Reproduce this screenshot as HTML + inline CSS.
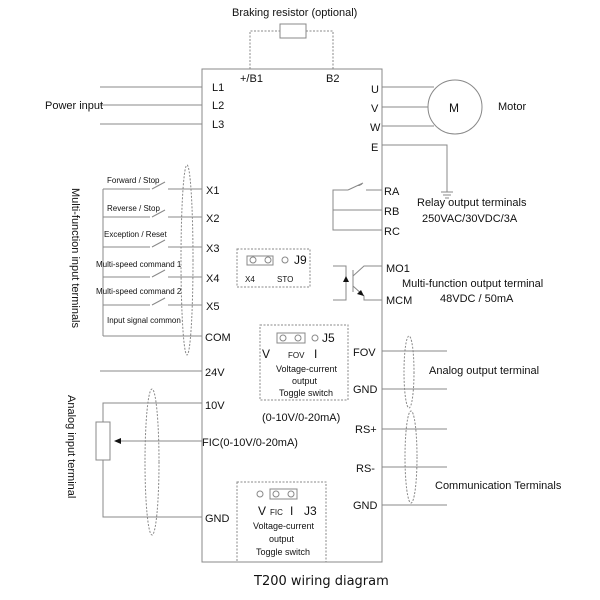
<!DOCTYPE html>
<html><head><meta charset="utf-8"><style>
html,body{margin:0;padding:0;background:#fff}
svg{display:block}
text{font-family:"Liberation Sans",sans-serif;fill:#111}
</style></head><body>
<svg width="600" height="600" viewBox="0 0 600 600" xmlns="http://www.w3.org/2000/svg">
<g stroke="#888" stroke-width="1" fill="none">
<!-- main box -->
<rect x="202" y="69" width="180" height="493"/>
<!-- braking -->
<polyline points="250,69 250,31 280,31" stroke-dasharray="2,1.5"/>
<polyline points="306,31 333,31 333,69" stroke-dasharray="2,1.5"/>
<rect x="280" y="24" width="26" height="14"/>
<!-- power -->
<line x1="100" y1="87" x2="202" y2="87"/>
<line x1="100" y1="105" x2="202" y2="105"/>
<line x1="100" y1="124" x2="202" y2="124"/>
<!-- motor -->
<line x1="382" y1="87" x2="434" y2="87"/>
<line x1="382" y1="107" x2="428" y2="107"/>
<line x1="382" y1="126" x2="434" y2="126"/>
<circle cx="455" cy="107" r="27"/>
<polyline points="382,145 447,145 447,192"/>
<line x1="441" y1="192" x2="453" y2="192"/>
<line x1="443" y1="195" x2="451" y2="195"/>
<line x1="445" y1="198" x2="449" y2="198"/>
<!-- switches -->
<line x1="103" y1="189" x2="103" y2="336"/>
<line x1="103" y1="336" x2="202" y2="336"/>
<g>
<line x1="103" y1="189" x2="150" y2="189"/><line x1="152" y1="189" x2="165" y2="182"/><line x1="168" y1="189" x2="202" y2="189"/>
<line x1="103" y1="217" x2="150" y2="217"/><line x1="152" y1="217" x2="165" y2="210"/><line x1="168" y1="217" x2="202" y2="217"/>
<line x1="103" y1="247" x2="150" y2="247"/><line x1="152" y1="247" x2="165" y2="240"/><line x1="168" y1="247" x2="202" y2="247"/>
<line x1="103" y1="277" x2="150" y2="277"/><line x1="152" y1="277" x2="165" y2="270"/><line x1="168" y1="277" x2="202" y2="277"/>
<line x1="103" y1="305" x2="150" y2="305"/><line x1="152" y1="305" x2="165" y2="298"/><line x1="168" y1="305" x2="202" y2="305"/>
</g>
<ellipse cx="187" cy="260" rx="6" ry="95" stroke-dasharray="2,1.5"/>
<!-- 24V -->
<line x1="100" y1="371" x2="202" y2="371"/>
<!-- analog input -->
<polyline points="202,403 103,403 103,422"/>
<rect x="96" y="422" width="14" height="38"/>
<polyline points="103,460 103,517 202,517"/>
<line x1="118" y1="441" x2="202" y2="441"/>
<ellipse cx="152" cy="462" rx="7" ry="73" stroke-dasharray="2,1.5"/>
<!-- relay -->
<polyline points="382,190 333,190 333,230 382,230"/>
<line x1="333" y1="210" x2="382" y2="210"/>
<line x1="350" y1="190" x2="362" y2="183" stroke="#fff" stroke-width="0"/>
<!-- transistor -->
<polyline points="333,266 346,266 346,300 333,300"/>
<line x1="353" y1="270" x2="353" y2="292"/>
<polyline points="353,276 364,266 382,266"/>
<polyline points="353,286 364,296 364,300 382,300"/>
<!-- analog output / comm -->
<line x1="382" y1="351" x2="447" y2="351"/>
<line x1="382" y1="389" x2="447" y2="389"/>
<line x1="382" y1="429" x2="447" y2="429"/>
<line x1="382" y1="467" x2="447" y2="467"/>
<line x1="382" y1="505" x2="447" y2="505"/>
<ellipse cx="409" cy="372" rx="5" ry="36" stroke-dasharray="2,1.5"/>
<ellipse cx="411" cy="457" rx="6" ry="46" stroke-dasharray="2,1.5"/>
<!-- jumpers -->
<rect x="237" y="249" width="73" height="38" stroke-dasharray="2,1.5"/>
<rect x="247" y="256" width="26" height="9"/>
<circle cx="253" cy="260" r="3"/><circle cx="268" cy="260" r="3"/><circle cx="285" cy="260" r="3"/>
<rect x="260" y="325" width="88" height="75" stroke-dasharray="2,1.5"/>
<rect x="277" y="333" width="28" height="10"/>
<circle cx="283" cy="338" r="3"/><circle cx="298" cy="338" r="3"/><circle cx="315" cy="338" r="3"/>
<rect x="237" y="482" width="89" height="80" stroke-dasharray="2,1.5"/>
<rect x="270" y="489" width="27" height="10"/>
<circle cx="260" cy="494" r="3"/><circle cx="276" cy="494" r="3"/><circle cx="291" cy="494" r="3"/>
</g>
<!-- relay switch -->
<g stroke="#888" fill="none">
<line x1="350" y1="190" x2="362" y2="184"/>
</g>
<rect x="348" y="186" width="18" height="6" fill="#fff"/>
<line x1="348" y1="190" x2="363" y2="183" stroke="#888"/>
<line x1="333" y1="190" x2="348" y2="190" stroke="#888"/>
<polygon points="346,276 343,282 349,282" fill="#111"/>
<polygon points="364,296 357,294 361,290" fill="#111"/>
<polygon points="114,441 121,438 121,444" fill="#111"/>
<!-- text -->
<g font-size="11">
<text x="232" y="16">Braking resistor (optional)</text>
<text x="240" y="82">+/B1</text><text x="326" y="82">B2</text>
<text x="212" y="91">L1</text><text x="212" y="109">L2</text><text x="212" y="128">L3</text>
<text x="45" y="109">Power input</text>
<text x="371" y="93">U</text><text x="371" y="112">V</text><text x="370" y="131">W</text><text x="371" y="151">E</text>
<text x="449" y="112" font-size="12">M</text>
<text x="498" y="110">Motor</text>
<text x="206" y="194">X1</text><text x="206" y="222">X2</text><text x="206" y="252">X3</text><text x="206" y="282">X4</text><text x="206" y="310">X5</text>
<text x="205" y="341">COM</text><text x="205" y="376">24V</text><text x="205" y="409">10V</text>
<text x="202" y="446">FIC(0-10V/0-20mA)</text>
<text x="205" y="522">GND</text>
<text x="384" y="195">RA</text><text x="384" y="215">RB</text><text x="384" y="235">RC</text>
<text x="386" y="272">MO1</text><text x="386" y="304">MCM</text>
<text x="417" y="206">Relay output terminals</text>
<text x="422" y="222">250VAC/30VDC/3A</text>
<text x="402" y="287">Multi-function output terminal</text>
<text x="440" y="302">48VDC / 50mA</text>
<text x="353" y="356">FOV</text><text x="353" y="393">GND</text>
<text x="355" y="433">RS+</text><text x="356" y="472">RS-</text><text x="353" y="509">GND</text>
<text x="429" y="374">Analog output terminal</text>
<text x="435" y="489">Communication Terminals</text>
<text x="262" y="421">(0-10V/0-20mA)</text>
<text x="294" y="264" font-size="12">J9</text>
<text x="322" y="342" font-size="12">J5</text>
<text x="304" y="515" font-size="12">J3</text>
<text x="262" y="358" font-size="12">V</text><text x="314" y="358" font-size="12">I</text>
<text x="258" y="515" font-size="12">V</text><text x="290" y="515" font-size="12">I</text>
</g>
<g font-size="8">
<text x="107" y="183">Forward / Stop</text>
<text x="107" y="211">Reverse / Stop</text>
<text x="104" y="237">Exception / Reset</text>
<text x="96" y="267">Multi-speed command 1</text>
<text x="96" y="294">Multi-speed command 2</text>
<text x="107" y="323">Input signal common</text>
<text x="245" y="282">X4</text><text x="277" y="282">STO</text>
<text x="288" y="358">FOV</text>
<text x="270" y="515">FIC</text>
<text x="276" y="372" font-size="9">Voltage-current</text>
<text x="292" y="384" font-size="9">output</text>
<text x="279" y="396" font-size="9">Toggle switch</text>
<text x="253" y="529" font-size="9">Voltage-current</text>
<text x="269" y="542" font-size="9">output</text>
<text x="256" y="555" font-size="9">Toggle switch</text>
</g>
<text transform="translate(72,188) rotate(90)" font-size="11">Multi-function input terminals</text>
<text transform="translate(68,395) rotate(90)" font-size="11">Analog input terminal</text>
<text x="254" y="585" font-size="13" style="font-family:'DejaVu Sans',sans-serif">T200 wiring diagram</text>
</svg>
</body></html>
